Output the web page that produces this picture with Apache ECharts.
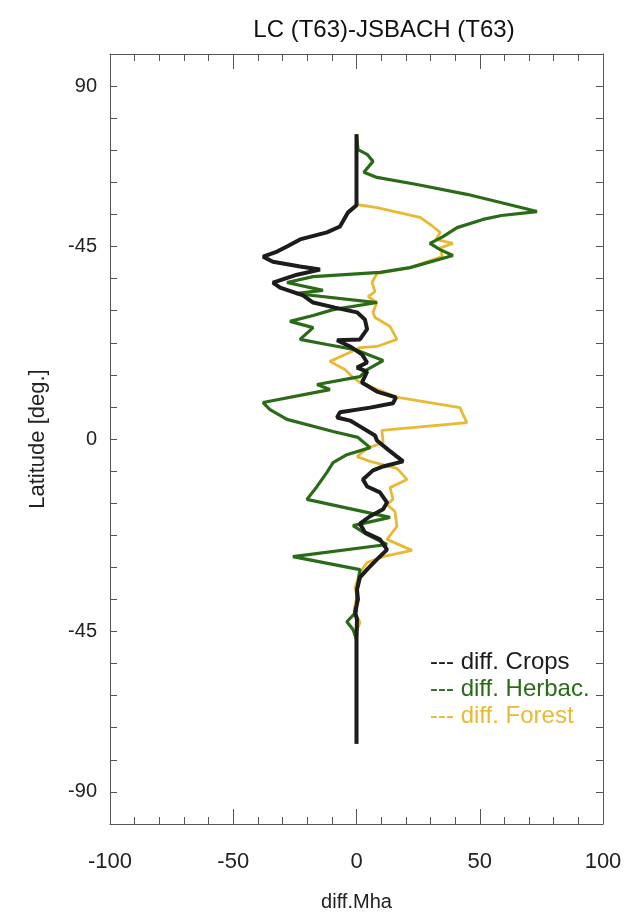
<!DOCTYPE html>
<html>
<head>
<meta charset="utf-8">
<title>LC (T63)-JSBACH (T63)</title>
<script src="https://cdn.jsdelivr.net/npm/echarts@6/dist/echarts.min.js"></script>
<style>
html, body { margin: 0; padding: 0; background: #fff; }
#main { width: 637px; height: 917px; }
</style>
</head>
<body>
<div id="main"></div>
<script>
// latitude (deg) / difference (Mha)
var cropsLat = [77.7, 59.6, 57.8, 55.5, 54.2, 52.7, 50.9, 49.1, 47.8, 46.5, 45.2, 44.0, 43.2, 41.9, 39.9, 38.6, 36.6, 34.8, 33.5, 32.3, 30.5, 28.0, 25.4, 25.2, 23.6, 21.6, 19.5, 18.2, 17.2, 14.4, 12.1, 10.6, 9.1, 8.0, 6.8, 5.5, 4.7, 2.9, 0.9, -0.4, -2.7, -5.7, -7.0, -8.0, -10.3, -12.1, -13.6, -16.2, -17.9, -19.7, -21.6, -23.8, -25.6, -28.2, -30.7, -33.0, -35.3, -38.4, -40.9, -44.2, -46.0, -51.1, -77.7];
var cropsVal = [0, 0, -3.4, -5.5, -6.7, -12, -22.9, -28.2, -32.2, -37.9, -33.9, -22.9, -14.8, -24.1, -33.9, -31, -21.7, -17.6, -8.7, 0.2, 3.4, 4.3, 1.4, -7.9, -2.6, 2.2, 4.3, 0.2, 4.3, 2.2, 8.3, 16, 14.8, 5.5, -6.7, -7.9, -2.6, 2.2, 7.5, 8.3, 12.8, 18.9, 10.8, 6.7, 2.6, 4.3, 9.5, 12.4, 10.8, 5.5, 1.4, 3.4, 9.5, 12.4, 8.3, 4.7, 1.4, 0.2, 0.6, -0.6, 0.2, 0, 0];

var herbLat = [77.7, 73.8, 72.6, 70.8, 68.0, 66.7, 64.9, 62.4, 59.3, 58.0, 57.0, 56.0, 53.9, 51.6, 49.9, 48.3, 46.8, 43.7, 42.5, 41.4, 39.9, 37.9, 37.1, 34.8, 33.0, 31.5, 30.0, 28.4, 25.4, 24.1, 22.8, 20.0, 17.7, 15.9, 13.9, 12.6, 9.3, 7.5, 5.0, 1.9, 0.4, -2.2, -4.0, -6.0, -8.5, -12.1, -15.4, -20.0, -22.1, -24.4, -26.9, -30.0, -33.3, -38.4, -44.0, -46.6, -48.6, -51.1, -77.7];
var herbVal = [0, 0.6, 4.3, 6.7, 3.0, 8.3, 24.5, 44.8, 65.1, 73.2, 58.8, 51.3, 40.8, 35.1, 29.8, 33.9, 39.1, 21.7, 9.5, -17.6, -28.2, -13.6, -24.9, 8.3, -9.5, -17.6, -27.0, -17.6, -22.9, -12.0, -0.6, 10.8, 4.3, 1.4, -16.0, -10.8, -37.9, -35.1, -28.2, -9.5, 0.6, 5.5, -3.9, -9.5, -12.0, -16.0, -20.1, 13.6, -1.4, 4.3, 12.4, -25.8, 1.4, 0.2, 0, -3.9, -1.4, 0, 0];

var forestLat = [77.7, 59.8, 59.0, 56.5, 54.2, 52.7, 50.9, 49.9, 48.8, 46.5, 43.7, 42.2, 39.9, 37.6, 36.3, 34.8, 32.3, 31.0, 28.7, 25.4, 23.6, 23.3, 22.1, 19.8, 17.7, 15.7, 14.4, 10.6, 8.0, 6.2, 4.2, 2.2, -0.9, -2.4, -4.5, -5.7, -7.5, -10.3, -12.4, -15.4, -16.7, -18.5, -22.3, -25.6, -28.4, -30.0, -31.5, -34.0, -37.9, -40.2, -43.5, -46.8, -49.1, -77.7];
var forestVal = [0, 0, 8.3, 25.8, 31.0, 33.9, 32.3, 39.1, 34.3, 34.7, 21.7, 8.3, 6.3, 7.5, 4.7, 8.3, 6.7, 7.5, 13.6, 16.4, 8.3, 1.4, -2.6, -10.8, -4.7, -1.4, 1.4, 16.8, 42.0, 43.2, 44.8, 10.3, 10.8, 4.3, 0.2, 5.5, 16.4, 20.5, 13.6, 14.8, 12.4, 15.6, 16.4, 12.4, 22.5, 10.8, 4.3, 1.4, -0.6, 0.2, -1.0, 1.4, 0, 0];

var seriesNames = ['diff. Crops', 'diff. Herbac.', 'diff. Forest'];
var seriesColors = ['#1c1c1c', '#2a6b18', '#e8b935'];

// y ticks: 24 equal steps over the frame, labelled at these step indices
var latStep = 90 / 11;
var yTickSteps = [11, 6, 0, -6, -11];
var yTickLabels = ['90', '-45', '0', '-45', '-90'];

function pairs(vals, lats) {
	var out = [];
	for (var i = 0; i < vals.length; i++) out.push([vals[i], lats[i]]);
	return out;
}

var myChart = echarts.init(document.getElementById('main'));
var frameColor = '#555';
var font = 'Liberation Sans, Arial, sans-serif';

var xBase = {
	type: 'value',
	min: -100,
	max: 100,
	interval: 50,
	axisLine: { show: true, onZero: false, lineStyle: { color: frameColor, width: 1 } },
	axisTick: { show: true, inside: true, length: 15, lineStyle: { color: frameColor } },
	minorTick: { show: true, splitNumber: 5, length: 7, lineStyle: { color: frameColor } },
	splitLine: { show: false }
};
var yBase = {
	type: 'value',
	min: -12 * latStep,
	max: 12 * latStep,
	interval: latStep,
	axisLine: { show: true, onZero: false, lineStyle: { color: frameColor, width: 1 } },
	axisTick: { show: true, inside: true, length: 7, lineStyle: { color: frameColor } },
	splitLine: { show: false }
};

var option = {
	backgroundColor: '#fff',
	animation: false,
	title: {
		text: 'LC (T63)-JSBACH (T63)',
		left: 379,
		top: 13,
		textAlign: 'center',
		textStyle: { fontFamily: font, fontSize: 24, fontWeight: 'normal', color: '#111' }
	},
	grid: { left: 110, right: 34, top: 54, bottom: 93, containLabel: false },
	legend: {
		orient: 'vertical',
		left: 420,
		top: 645,
		icon: 'none',
		itemWidth: 0,
		itemHeight: 10,
		itemGap: 3,
		selectedMode: false,
		formatter: '--- {name}',
		textStyle: { fontFamily: font, fontSize: 24 },
		data: seriesNames.map(function (n, i) {
			return { name: n, textStyle: { color: seriesColors[i] } };
		})
	},
	xAxis: [
		Object.assign({}, xBase, {
			position: 'bottom',
			name: 'diff.Mha',
			nameLocation: 'middle',
			nameGap: 68,
			nameTextStyle: { fontFamily: font, fontSize: 20, color: '#222' },
			axisLabel: { margin: 27, fontFamily: font, fontSize: 22, color: '#222' }
		}),
		Object.assign({}, xBase, { position: 'top', axisLabel: { show: false } })
	],
	yAxis: [
		Object.assign({}, yBase, {
			position: 'left',
			name: 'Latitude [deg.]',
			nameLocation: 'middle',
			nameGap: 61,
			nameTextStyle: { fontFamily: font, fontSize: 22, color: '#222' },
			axisLabel: {
				margin: 13,
				fontFamily: font,
				fontSize: 20,
				color: '#222',
				formatter: function (v) {
					var k = yTickSteps.indexOf(Math.round(v / latStep));
					return k >= 0 ? yTickLabels[k] : '';
				}
			}
		}),
		Object.assign({}, yBase, { position: 'right', axisLabel: { show: false } })
	],
	series: [
		{
			name: seriesNames[2], type: 'line', showSymbol: false, z: 2,
			data: pairs(forestVal, forestLat),
			itemStyle: { color: seriesColors[2] },
			lineStyle: { color: seriesColors[2], width: 2.8 }
		},
		{
			name: seriesNames[1], type: 'line', showSymbol: false, z: 3,
			data: pairs(herbVal, herbLat),
			itemStyle: { color: seriesColors[1] },
			lineStyle: { color: seriesColors[1], width: 3.2 }
		},
		{
			name: seriesNames[0], type: 'line', showSymbol: false, z: 4,
			data: pairs(cropsVal, cropsLat),
			itemStyle: { color: seriesColors[0] },
			lineStyle: { color: seriesColors[0], width: 4 }
		}
	]
};
myChart.setOption(option);
</script>
</body>
</html>
